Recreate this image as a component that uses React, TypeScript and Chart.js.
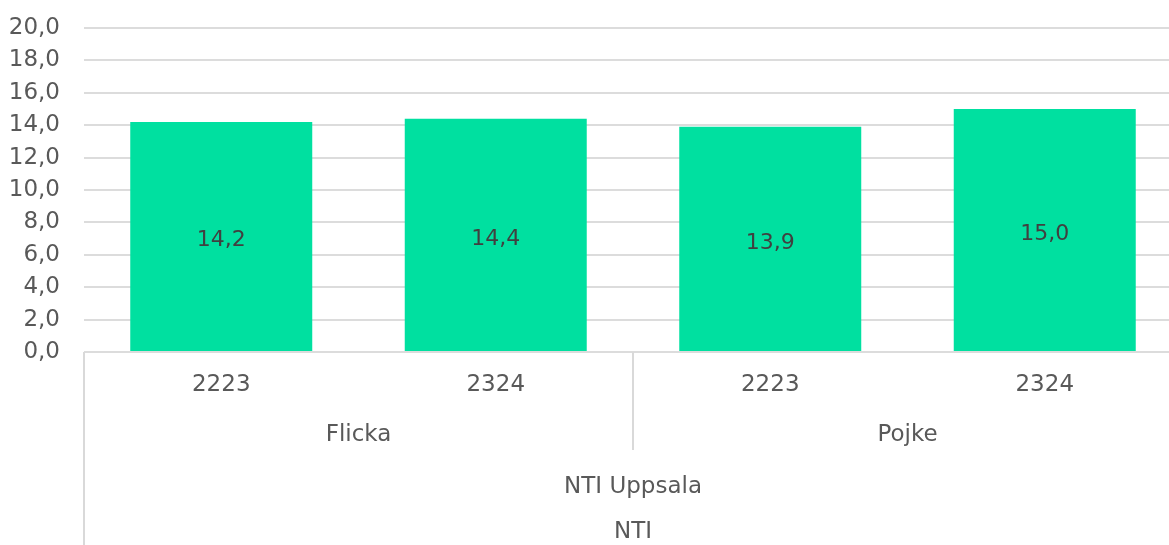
import React, { useEffect, useRef } from "react";
import { Chart, registerables } from "chart.js";

Chart.register(...registerables);

const categories = ["2223", "2324", "2223", "2324"];
const genders = ["Flicka", "Pojke"];
const schools = ["NTI Uppsala"];
const orgs = ["NTI"];
const values = [14.2, 14.4, 13.9, 15.0];
const yTicks = [0, 2, 4, 6, 8, 10, 12, 14, 16, 18, 20];

const FONT = "'DejaVu Sans', sans-serif";
const TEXT = "#595959";

const fmt = (v: number) => v.toFixed(1).replace(".", ",");

const overlay = {
  id: "overlay",
  afterDraw(chart: any) {
    const ctx = chart.ctx;
    const x = chart.scales.x;
    const area = chart.chartArea;
    const meta = chart.getDatasetMeta(0);
    ctx.save();
    // data labels
    ctx.font = `22px ${FONT}`;
    ctx.fillStyle = "#404040";
    ctx.textAlign = "center";
    ctx.textBaseline = "middle";
    meta.data.forEach((bar: any, i: number) => {
      const mid = (bar.y + bar.base) / 2;
      ctx.fillText(fmt(values[i]), bar.x, mid + 4);
    });
    // separators
    const left = area.left;
    const right = area.right;
    const bottom = area.bottom;
    const h = chart.height;
    const half = (x.getPixelForValue(1) + x.getPixelForValue(2)) / 2;
    ctx.strokeStyle = "#d9d9d9";
    ctx.lineWidth = 2;
    ctx.beginPath();
    ctx.moveTo(left, bottom);
    ctx.lineTo(left, h);
    ctx.moveTo(half, bottom);
    ctx.lineTo(half, bottom + 98);
    ctx.stroke();
    // labels
    ctx.fillStyle = TEXT;
    ctx.font = `23px ${FONT}`;
    categories.forEach((c, i) => {
      ctx.fillText(c, x.getPixelForValue(i), bottom + 33);
    });
    const gx = [(left + half) / 2, (half + right) / 2];
    genders.forEach((g, i) => ctx.fillText(g, gx[i], bottom + 83));
    ctx.fillText(schools[0], (left + right) / 2, bottom + 135);
    ctx.fillText(orgs[0], (left + right) / 2, bottom + 180);
    ctx.restore();
  },
};

export default function App() {
  const ref = useRef<HTMLCanvasElement>(null);
  useEffect(() => {
    document.body.style.margin = "0";
    const chart = new Chart(ref.current!, {
      type: "bar",
      data: {
        labels: categories,
        datasets: [
          {
            data: values,
            backgroundColor: "#00E0A0",
            borderWidth: 0,
            categoryPercentage: 0.663,
            barPercentage: 1,
          },
        ],
      },
      options: {
        animation: false,
        responsive: false,
        layout: { padding: { top: 28, right: 0, left: 0, bottom: 0 } },
        plugins: { legend: { display: false }, tooltip: { enabled: false } },
        scales: {
          x: {
            grid: { display: false },
            border: { display: false },
            ticks: { display: false },
            afterFit: (s: any) => {
              s.height = 193;
            },
          },
          y: {
            min: 0,
            max: 20,
            afterBuildTicks: (s: any) => {
              s.ticks = yTicks.map((v) => ({ value: v }));
            },
            grid: { color: "#dcdcdc", lineWidth: 2, drawTicks: false },
            border: { display: false },
            ticks: {
              padding: 24,
              color: TEXT,
              font: { family: FONT, size: 23 },
              callback: (v: any) => fmt(Number(v)),
            },
            afterFit: (s: any) => {
              s.width = 84;
              s.paddingTop = 0;
              s.paddingBottom = 0;
            },
          },
        },
      },
      plugins: [overlay],
    });
    return () => chart.destroy();
  }, []);
  return (
    <div style={{ width: 1169, height: 545, overflow: "hidden" }}>
      <canvas ref={ref} width={1182} height={545} style={{ display: "block" }} />
    </div>
  );
}
